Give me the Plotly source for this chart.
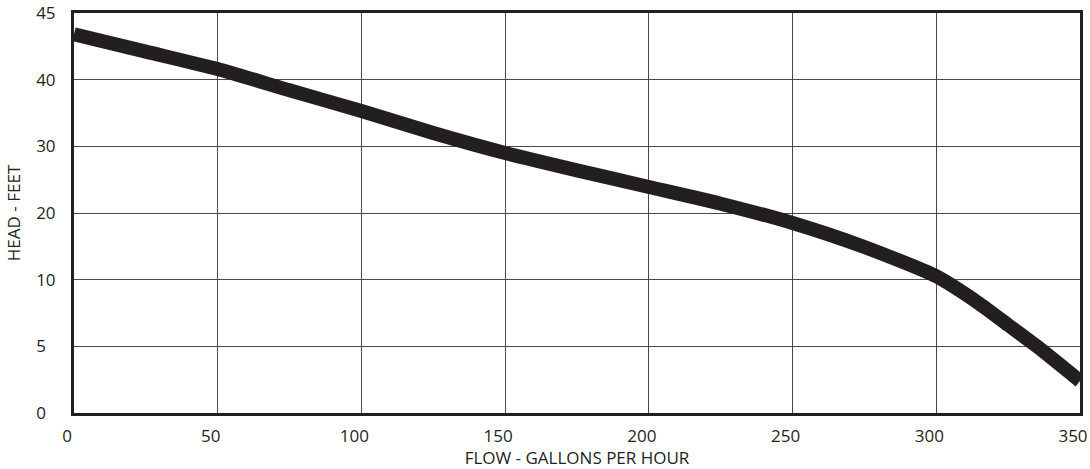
import numpy as np
import plotly.graph_objects as go

# Data
flow_gph = [0, 25, 50, 75, 100, 125, 150, 175, 200, 225, 250, 275, 300, 315, 325, 335, 350]
head_ft = [43.4, 42.1, 40.8, 38.4, 35.3, 32.0, 29.0, 26.4, 23.9, 21.4, 18.5, 14.9, 10.5, 8.2, 6.6, 5.0, 2.4]

# Non-uniform head axis: equally spaced tick bands
head_ticks = [0, 5, 10, 20, 30, 40, 45]
head_tick_labels = ["0\u2007", "5\u2007", "10", "20", "30", "40", "45"]
flow_ticks = [0, 50, 100, 150, 200, 250, 300, 350]
flow_tick_labels = ["0", "50", "100", "150", "200", "250", "300", "350"]

band_idx = list(range(len(head_ticks)))
y_pos = np.interp(head_ft, head_ticks, band_idx)

ink = "#231f20"
grid = "#4a4a4a"
font = "Open Sans"

fig = go.Figure()
fig.add_trace(go.Scatter(
    x=flow_gph, y=y_pos, mode="lines",
    line=dict(color=ink, width=14, shape="spline", smoothing=0.6),
    hoverinfo="skip", showlegend=False,
))

fig.update_layout(
    width=1090, height=469,
    margin=dict(l=74, r=10, t=13, b=56),
    paper_bgcolor="white", plot_bgcolor="white",
    font=dict(family=font, size=17, color=ink),
)
fig.update_xaxes(
    range=[0, 350], tickvals=flow_ticks, ticktext=flow_tick_labels,
    showgrid=True, gridcolor=grid, gridwidth=1,
    showline=True, linecolor=ink, linewidth=3, mirror=True,
    ticks="", zeroline=False, automargin=False, ticklabelstandoff=6,
    ticklabelshift=-7, ticklabeloverflow="allow",
    title=dict(text="FLOW - GALLONS PER HOUR", font=dict(size=17), standoff=6),
    tickfont=dict(size=17),
)
fig.update_yaxes(
    range=[0, 6], tickvals=band_idx, ticktext=head_tick_labels,
    showgrid=True, gridcolor=grid, gridwidth=1,
    showline=True, linecolor=ink, linewidth=3, mirror=True,
    ticks="", zeroline=False, automargin=False, ticklabelstandoff=12,
    ticklabeloverflow="allow",
    title=dict(text="HEAD - FEET", font=dict(size=17), standoff=12),
    tickfont=dict(size=17),
)

# remove the page's default body margin so the figure fills the window exactly
fig.write_html("out.html", config={"displayModeBar": False},
               post_script="document.body.style.margin='0';")
